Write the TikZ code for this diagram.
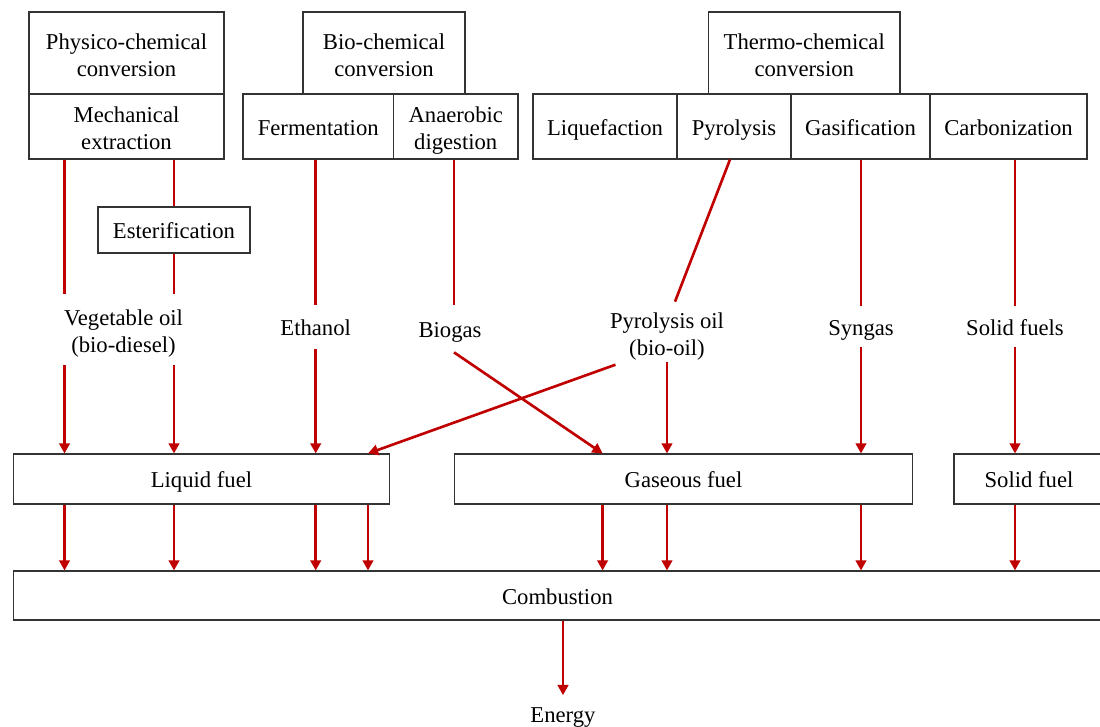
\documentclass[tikz,border=0pt]{standalone}
\usepackage{fontspec}
\setmainfont{Liberation Serif}
\usetikzlibrary{arrows.meta}

\definecolor{flowred}{RGB}{192,0,0}

\tikzset{
  box/.style={draw=black!80, line width=0.6pt, inner sep=1pt, align=center},
  upper/.style={box, minimum height=1.64cm},
  lower/.style={box, minimum height=1.3cm},
  fuel/.style={box, minimum height=1cm},
  product/.style={inner sep=1pt, align=center},
  oneline/.style={text height=9.7pt, text depth=0pt},
  twoline/.style={text height=26.4pt, text depth=0pt},
  link/.style={draw=flowred, line width=1.5pt},
  flow/.style={link, -{Triangle[length=5.8pt,width=6pt]}},
}

\begin{document}
\begin{tikzpicture}[x=0.02cm, y=-0.02cm, font=\fontsize{12.9}{15.2}\selectfont]
	\useasboundingbox (0,0) rectangle (1100,727);

	% Conversion routes.
	\node[upper, twoline, minimum width=3.9cm]  (physico) at (126.5,53) {Physico-chemical\\conversion};
	\node[lower, twoline, minimum width=3.9cm]     (mech) at (126.5,126.5) {Mechanical\\extraction};
	\node[box, oneline, minimum width=3.04cm, minimum height=0.92cm] (ester) at (174,230) {Esterification};
	\node[upper, twoline, minimum width=3.24cm] (biochem) at (384,53) {Bio-chemical\\conversion};
	\node[lower, oneline, minimum width=3.01cm] (ferment) at (318.25,126.5) {Fermentation};
	\node[lower, twoline, minimum width=2.49cm]   (anaer) at (455.75,126.5) {Anaerobic\\digestion};
	\node[upper, twoline, minimum width=3.83cm]  (thermo) at (804.25,53) {Thermo-chemical\\conversion};
	\node[lower, oneline, minimum width=2.88cm]  (liquef) at (605,126.5) {Liquefaction};
	\node[lower, oneline, minimum width=2.28cm]    (pyro) at (734,126.5) {Pyrolysis};
	\node[lower, oneline, minimum width=2.78cm]   (gasif) at (860.5,126.5) {Gasification};
	\node[lower, oneline, minimum width=3.14cm]  (carbon) at (1008.5,126.5) {Carbonization};

	% Products.
	\node[product, twoline, minimum height=1.42cm]     (vegoil) at (123.5,329.5) {Vegetable oil\\(bio-diesel)};
	\node[product, oneline, minimum height=0.88cm]    (ethanol) at (315.7,327) {Ethanol};
	\node[product, oneline, minimum height=0.94cm]     (biogas) at (450,328.5) {Biogas};
	\node[product, twoline, minimum height=1.2cm]      (pyroil) at (667,332) {Pyrolysis oil\\(bio-oil)};
	\node[product, oneline, minimum height=0.82cm]     (syngas) at (861,326.5) {Syngas};
	\node[product, oneline, minimum height=0.82cm] (solidfuels) at (1015,326.5) {Solid fuels};

	% Fuels.
	\node[fuel, oneline, minimum width=7.54cm]   (liquid) at (201.5,479) {Liquid fuel};
	\node[fuel, oneline, minimum width=9.18cm]  (gaseous) at (683.5,479) {Gaseous fuel};
	\node[fuel, oneline, minimum width=3.0cm]  (solidbox) at (1029,479) {Solid fuel};
	\node[box, oneline, minimum width=21.78cm, minimum height=0.98cm] (combust) at (557.5,595.5) {Combustion};
	\node[product, oneline, minimum height=0.74cm] (energy) at (563,714) {Energy};

	% Columns.
	\foreach \col/\xx in {vega/64.5, bio/454, liqe/368, gasa/602.6, pyrt/730, pyrb/675, pyrl/622}
		\coordinate (\col) at (\xx,0);

	% Routes to products.
	\draw[link] (mech.south -| vega) -- (vegoil.north -| vega);
	\draw[link] (mech.south -| ester) -- (ester.north);
	\draw[link] (ester.south) -- (vegoil.north -| ester);
	\draw[link] (ferment.south -| ethanol) -- (ethanol.north);
	\draw[link] (anaer.south -| bio) -- (biogas.north -| bio);
	\draw[link] (pyro.south -| pyrt) -- (pyroil.north -| pyrb);
	\draw[link] (gasif.south -| syngas) -- (syngas.north);
	\draw[link] (carbon.south -| solidfuels) -- (solidfuels.north);

	% Products to fuels.
	\draw[flow] (vegoil.south -| vega) -- (liquid.north -| vega);
	\draw[flow] (vegoil.south -| ester) -- (liquid.north -| ester);
	\draw[flow] (ethanol.south) -- (liquid.north -| ethanol);
	\draw[flow, shorten <=0.14cm] (pyroil.south -| pyrl) -- (liquid.north -| liqe);
	\draw[flow] (biogas.south -| bio) -- (gaseous.north -| gasa);
	\draw[flow] (pyroil.south) -- (gaseous.north -| pyroil);
	\draw[flow] (syngas.south) -- (gaseous.north -| syngas);
	\draw[flow] (solidfuels.south) -- (solidbox.north -| solidfuels);

	% Fuels to combustion.
	\foreach \src/\col in {liquid/vega, liquid/ester, liquid/ethanol, liquid/liqe,
		gaseous/gasa, gaseous/pyroil, gaseous/syngas, solidbox/solidfuels}
		\draw[flow] (\src.south -| \col) -- (combust.north -| \col);

	\draw[flow] (combust.south -| energy) -- (energy.north);

\end{tikzpicture}
\end{document}
